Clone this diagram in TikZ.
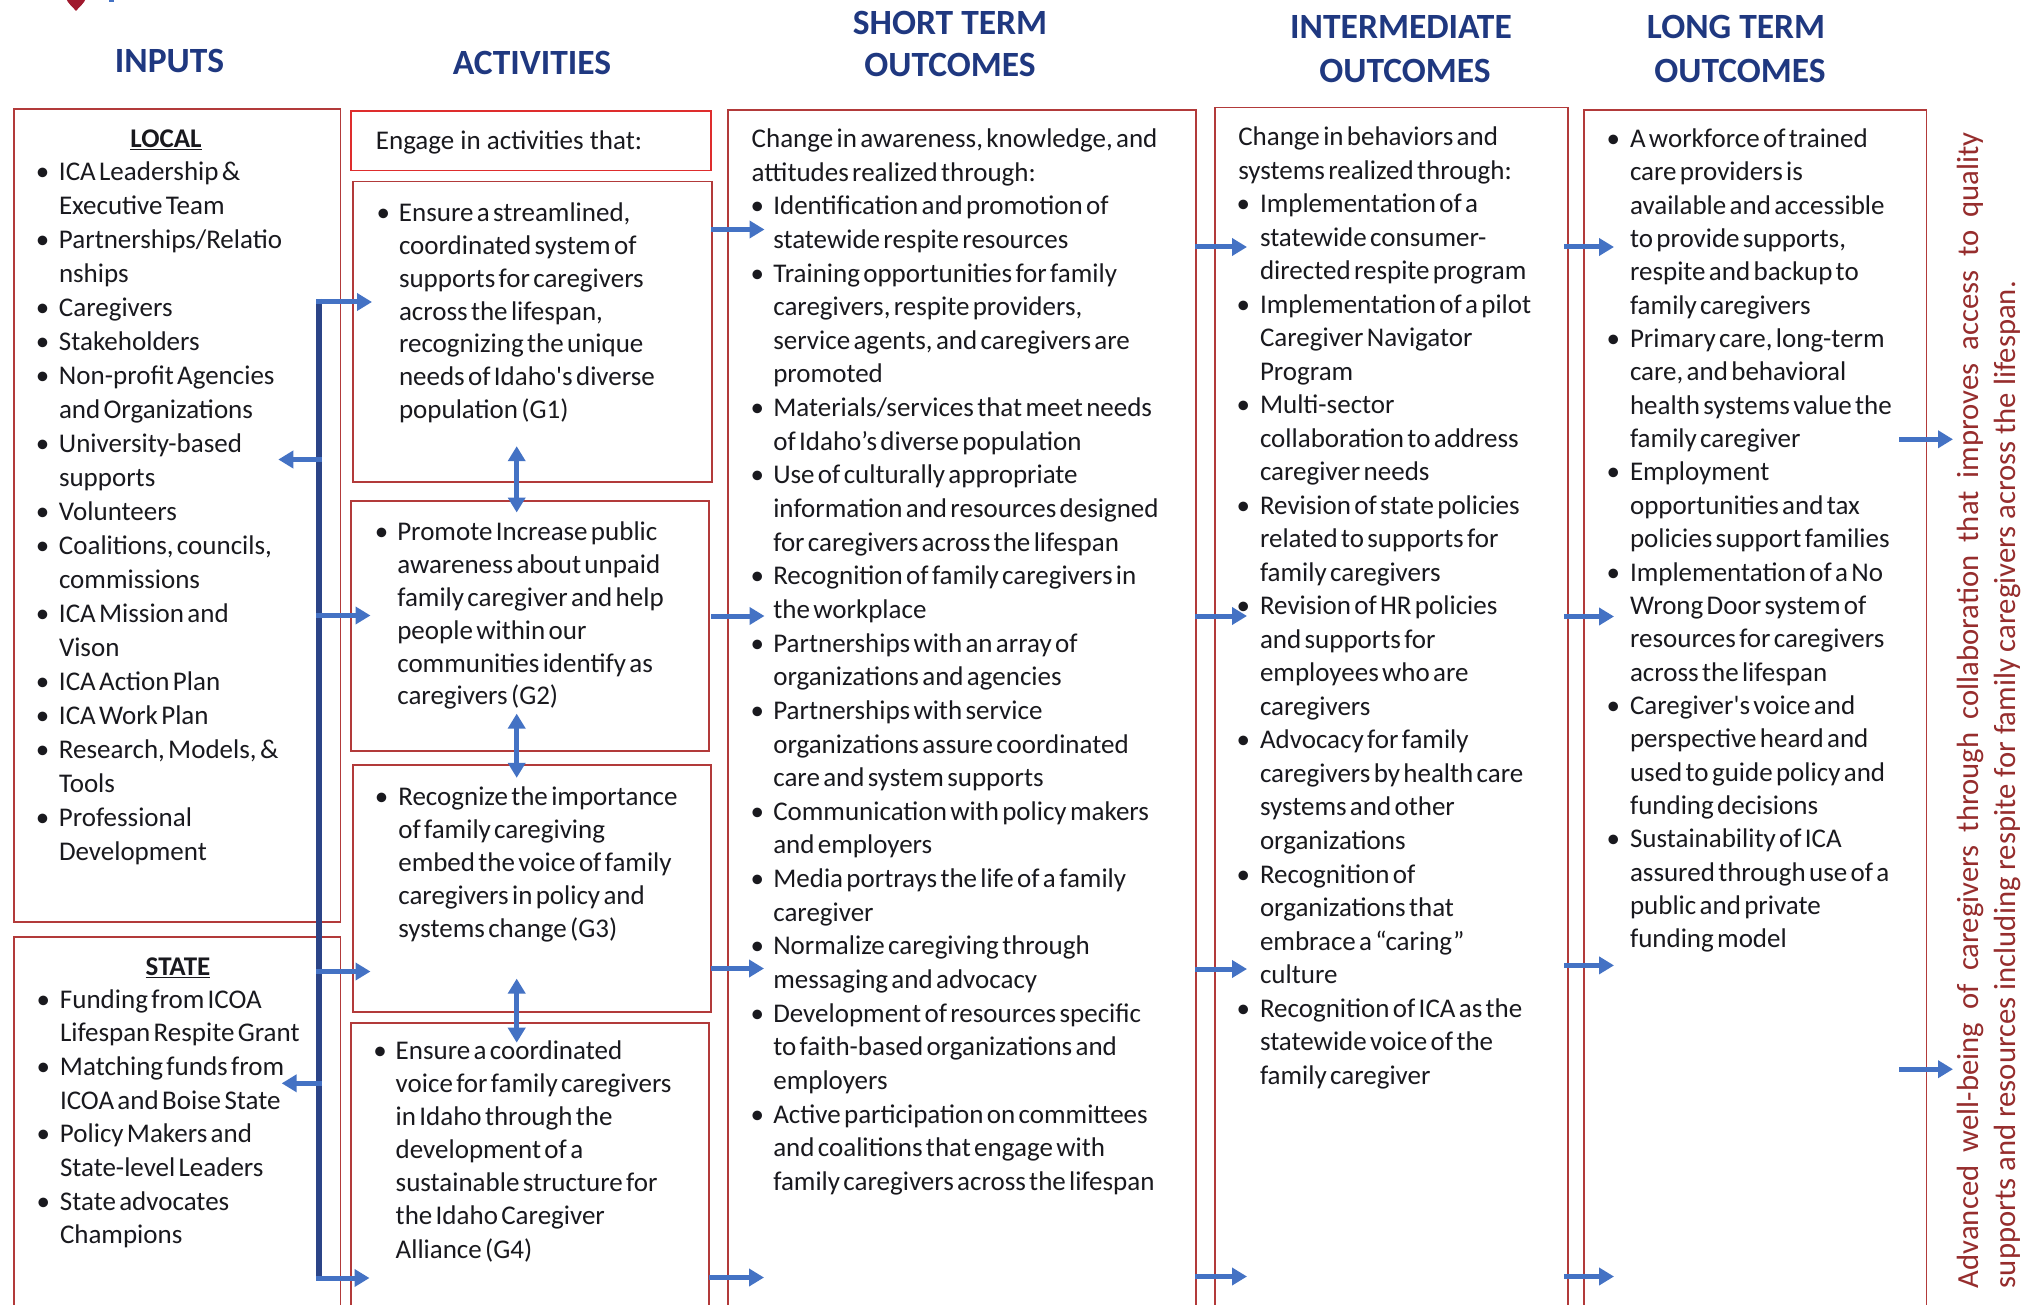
\documentclass[tikz,border=0pt]{standalone}
\usepackage{fontspec}
\setmainfont{Carlito}[Ligatures=TeXOff]
\usetikzlibrary{arrows.meta}
\definecolor{boxred}{RGB}{178,58,58}
\definecolor{engred}{RGB}{222,45,45}
\definecolor{headblue}{RGB}{31,56,128}
\definecolor{arrblue}{RGB}{68,114,196}
\definecolor{barnavy}{RGB}{43,68,135}
\definecolor{vred}{RGB}{150,45,45}
\definecolor{txt}{RGB}{25,25,30}
\definecolor{logored}{RGB}{160,25,45}
\newlength\bpre \newlength\bind
\newcommand\bitf{\noindent\hangindent=\bind\hangafter=1\hbox to\bind{\hbox to 2\bpre{\hss\textbullet\hss}\hss}}
\newcommand\bit{\par\bitf}
\newcommand\nl{\hfil\break}
\newcommand\bodyset[3]{\fontsize{27}{#1}\selectfont\setlength\bpre{#2pt}\setlength\bind{#3pt}}
\begin{document}
\begin{tikzpicture}[x=1pt,y=-1pt,
  redbox/.style={draw=boxred, line width=1.8pt, anchor=north west, inner sep=0pt, outer sep=0pt},
  body/.style={anchor=base west, inner sep=0pt, outer sep=0pt, text width=#1, align=left, text=txt},
  head/.style={inner sep=0pt, text=headblue, font=\fontsize{35.5}{44}\selectfont\bfseries},
  arr/.style={draw=arrblue, line width=5pt, -{Triangle[length=15pt,width=17pt]}},
  darr/.style={draw=arrblue, line width=5pt, {Triangle[length=15pt,width=17pt]}-{Triangle[length=15pt,width=17pt]}},
  vtext/.style={rotate=90, anchor=base west, inner sep=0pt, text=vred, font=\fontsize{30.7}{38}\selectfont}]
\useasboundingbox (0,0) rectangle (2028,1305);
\fill[white] (0,0) rectangle (2028,1305);
% logo fragment
\fill[logored] (66,-2) .. controls (68,4) and (73,7) .. (76,11) .. controls (79,7) and (84,4) .. (86,-2) -- cycle;
\fill[arrblue] (109,-2) rectangle (114,2.5);
% headings
\node[head] (hin) at (169.5,60.5) {INPUTS};
\node[head] (hact) at (532,63.3) {ACTIVITIES};
\node[head] (hst1) at (950,22.5) {SHORT TERM};
\node[head] (hst2) at (950,64.7) {OUTCOMES};
\node[head] (hit1) at (1401,26.7) {INTERMEDIATE};
\node[head] (hit2) at (1405,71.3) {OUTCOMES};
\node[head] (hlt1) at (1736,26.7) {LONG TERM};
\node[head] (hlt2) at (1740,71.3) {OUTCOMES};
% boxes
\node[redbox, minimum width=326.5pt, minimum height=813pt] (local) at (14,109) {};
\node[redbox, minimum width=326.5pt, minimum height=383pt] (state) at (14,937) {};
\node[redbox, draw=engred, minimum width=360pt, minimum height=59.5pt] (engage) at (350.7,111) {};
\node[redbox, minimum width=359.3pt, minimum height=300.7pt] (g1) at (352.7,181.5) {};
\node[redbox, minimum width=358.3pt, minimum height=249.9pt] (g2) at (350.7,500.9) {};
\node[redbox, minimum width=358pt, minimum height=246.8pt] (g3) at (352.7,765.2) {};
\node[redbox, minimum width=358.3pt, minimum height=300pt] (g4) at (350.7,1022.9) {};
\node[redbox, minimum width=467.4pt, minimum height=1210pt] (st) at (728.3,110) {};
\node[redbox, minimum width=352.7pt, minimum height=1212.5pt] (it) at (1215,107.5) {};
\node[redbox, minimum width=342.2pt, minimum height=1210pt] (lt) at (1584.3,110) {};
% inputs text
\node[anchor=base, inner sep=0pt, text=txt, font=\fontsize{27}{33}\selectfont\bfseries] (localhd) at (166,148) {\underline{LOCAL}};
\node[body=300pt] (localtx) at (36.7,180.7) {\bodyset{34}{6}{22.3}%
\bitf ICA Leadership \&\nl Executive Team
\bit Partnerships/Relatio\nl nships
\bit Caregivers
\bit Stakeholders
\bit Non-profit Agencies\nl and Organizations
\bit University-based\nl supports
\bit Volunteers
\bit Coalitions, councils,\nl commissions
\bit ICA Mission and\nl Vison
\bit ICA Action Plan
\bit ICA Work Plan
\bit Research, Models, \&\nl Tools
\bit Professional\nl Development\par};
\node[anchor=base, inner sep=0pt, text=txt, font=\fontsize{27}{33}\selectfont\bfseries] (statehd) at (178,975.7) {\underline{STATE}};
\node[body=300pt] (statetx) at (37.3,1008) {\bodyset{33.7}{6}{22.7}%
\bitf Funding from ICOA\nl Lifespan Respite Grant
\bit Matching funds from\nl ICOA and Boise State
\bit Policy Makers and\nl State-level Leaders
\bit State advocates\nl Champions\par};
% activities text
\node[anchor=base west, inner sep=0pt, text=txt, font=\fontsize{27}{33}\selectfont] (engtx) at (375.7,149.5) {Engage in activities that:};
\node[body=340pt] (g1tx) at (377.3,222) {\bodyset{32.7}{6}{21.7}%
\bitf Ensure a streamlined,\nl coordinated system of\nl supports for caregivers\nl across the lifespan,\nl recognizing the unique\nl needs of Idaho's diverse\nl population (G1)\par};
\node[body=340pt] (g2tx) at (375.7,540.4) {\bodyset{32.9}{6}{21.6}%
\bitf Promote Increase public\nl awareness about unpaid\nl family caregiver and help\nl people within our\nl communities identify as\nl caregivers (G2)\par};
\node[body=340pt] (g3tx) at (375.7,805) {\bodyset{33}{6}{22.6}%
\bitf Recognize the importance\nl of family caregiving\nl embed the voice of family\nl caregivers in policy and\nl systems change (G3)\par};
\node[body=340pt] (g4tx) at (374,1059.7) {\bodyset{33.05}{6}{21.7}%
\bitf Ensure a coordinated\nl voice for family caregivers\nl in Idaho through the\nl development of a\nl sustainable structure for\nl the Idaho Caregiver\nl Alliance (G4)\par};
% short term
\node[body=440pt] (sttx) at (751.7,147.5) {\bodyset{33.64}{5.6}{21.6}%
\noindent Change in awareness, knowledge, and\nl attitudes realized through:
\bit Identification and promotion of\nl statewide respite resources
\bit Training opportunities for family\nl caregivers, respite providers,\nl service agents, and caregivers are\nl promoted
\bit Materials/services that meet needs\nl of Idaho’s diverse population
\bit Use of culturally appropriate\nl information and resources designed\nl for caregivers across the lifespan
\bit Recognition of family caregivers in\nl the workplace
\bit Partnerships with an array of\nl organizations and agencies
\bit Partnerships with service\nl organizations assure coordinated\nl care and system supports
\bit Communication with policy makers\nl and employers
\bit Media portrays the life of a family\nl caregiver
\bit Normalize caregiving through\nl messaging and advocacy
\bit Development of resources specific\nl to faith-based organizations and\nl employers
\bit Active participation on committees\nl and coalitions that engage with\nl family caregivers across the lifespan\par};
% intermediate
\node[body=330pt] (ittx) at (1238.3,145.6) {\bodyset{33.52}{5}{21.7}%
\noindent Change in behaviors and\nl systems realized through:
\bit Implementation of a\nl statewide consumer-\nl directed respite program
\bit Implementation of a pilot\nl Caregiver Navigator\nl Program
\bit Multi-sector\nl collaboration to address\nl caregiver needs
\bit Revision of state policies\nl related to supports for\nl family caregivers
\bit Revision of HR policies\nl and supports for\nl employees who are\nl caregivers
\bit Advocacy for family\nl caregivers by health care\nl systems and other\nl organizations
\bit Recognition of\nl organizations that\nl embrace a “caring”\nl culture
\bit Recognition of ICA as the\nl statewide voice of the\nl family caregiver\par};
% long term
\node[body=310pt] (lttx) at (1607.3,147.5) {\bodyset{33.35}{6}{22.7}%
\bitf A workforce of trained\nl care providers is\nl available and accessible\nl to provide supports,\nl respite and backup to\nl family caregivers
\bit Primary care, long-term\nl care, and behavioral\nl health systems value the\nl family caregiver
\bit Employment\nl opportunities and tax\nl policies support families
\bit Implementation of a No\nl Wrong Door system of\nl resources for caregivers\nl across the lifespan
\bit Caregiver's voice and\nl perspective heard and\nl used to guide policy and\nl funding decisions
\bit Sustainability of ICA\nl assured through use of a\nl public and private\nl funding model\par};
% vertical text
\node[vtext] (vt1) at (1978.7,1288.3) {\makebox[1156pt][s]{Advanced well-being of caregivers through collaboration that improves access to quality}};
\node[vtext] (vt2) at (2015.3,1288.3) {supports and resources including respite for family caregivers across the lifespan.};
% connector coordinates
\coordinate (bartop) at (319,299);
\coordinate (barbot) at (319,1281);
\coordinate (br1s) at (316,302);    \coordinate (br1e) at (372,302);
\coordinate (bl1s) at (322,459.5);  \coordinate (bl1e) at (278.3,459.5);
\coordinate (br2s) at (316,615.5);  \coordinate (br2e) at (370.5,615.5);
\coordinate (br3s) at (316,971.5);  \coordinate (br3e) at (370.5,971.5);
\coordinate (bl2s) at (322,1083.3); \coordinate (bl2e) at (281.7,1083.3);
\coordinate (br4s) at (316,1278);   \coordinate (br4e) at (369.5,1278);
\coordinate (d1a) at (516.7,446.2); \coordinate (d1b) at (516.7,512.5);
\coordinate (d2a) at (516.7,713.6); \coordinate (d2b) at (516.7,777.8);
\coordinate (d3a) at (516.7,978.6); \coordinate (d3b) at (516.7,1042.7);
\coordinate (as1) at (711,229.5);   \coordinate (ae1) at (764.5,229.5);
\coordinate (as2) at (711,616);     \coordinate (ae2) at (764.5,616);
\coordinate (as3) at (711,968.5);   \coordinate (ae3) at (764,968.5);
\coordinate (as4) at (709,1277.5);  \coordinate (ae4) at (764,1277.5);
\coordinate (ss1) at (1195,247);    \coordinate (se1) at (1247,247);
\coordinate (ss2) at (1195,616);    \coordinate (se2) at (1247,616);
\coordinate (ss3) at (1195,969);    \coordinate (se3) at (1247,969);
\coordinate (ss4) at (1195,1276.5); \coordinate (se4) at (1247,1276.5);
\coordinate (is1) at (1564,247);    \coordinate (ie1) at (1614,247);
\coordinate (is2) at (1564,616.5);  \coordinate (ie2) at (1614,616.5);
\coordinate (is3) at (1564,965.4);  \coordinate (ie3) at (1614,965.4);
\coordinate (is4) at (1564,1276.5); \coordinate (ie4) at (1614,1276.5);
\coordinate (ls1) at (1899,439.3);  \coordinate (le1) at (1953,439.3);
\coordinate (ls2) at (1899,1069.2); \coordinate (le2) at (1953,1069.2);
% connectors
\draw[barnavy, line width=6pt] (bartop) -- (barbot);
\foreach \a/\b in {br1s/br1e, bl1s/bl1e, br2s/br2e, br3s/br3e, bl2s/bl2e, br4s/br4e,
  as1/ae1, as2/ae2, as3/ae3, as4/ae4, ss1/se1, ss2/se2, ss3/se3, ss4/se4,
  is1/ie1, is2/ie2, is3/ie3, is4/ie4, ls1/le1, ls2/le2}
  \draw[arr] (\a) -- (\b);
\foreach \a/\b in {d1a/d1b, d2a/d2b, d3a/d3b}
  \draw[darr] (\a) -- (\b);
\end{tikzpicture}
\end{document}
